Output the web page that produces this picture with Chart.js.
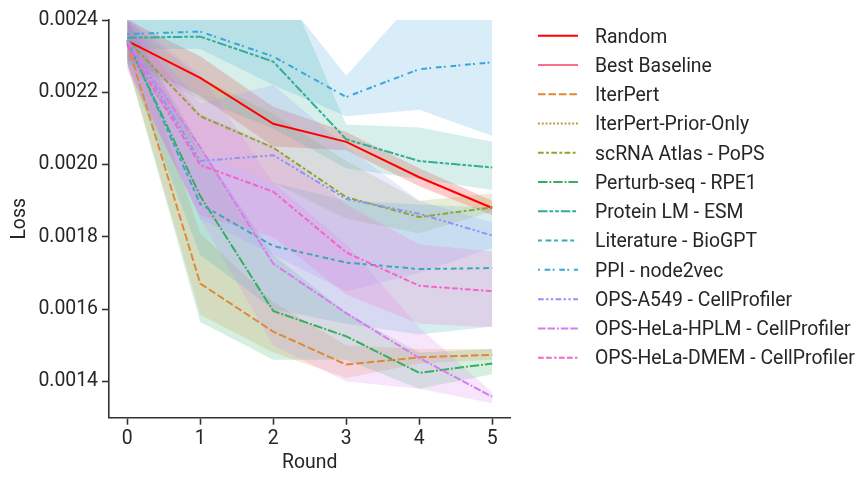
<!DOCTYPE html>
<html><head><meta charset="utf-8">
<script src="https://cdn.jsdelivr.net/npm/chart.js@4/dist/chart.umd.min.js"></script>
<style>html,body{margin:0;padding:0;background:#fff}#wrap{width:865px;height:477px;position:relative}</style>
</head><body><div id="wrap"><canvas id="c" width="865" height="477"></canvas></div>
<script>
// ---- data ----
const rounds = [0, 1, 2, 3, 4, 5];
const xTicks = [0, 1, 2, 3, 4, 5];
const yTicks = [0.0014, 0.0016, 0.0018, 0.0020, 0.0022, 0.0024];
const seriesNames = ["Random", "Best Baseline", "IterPert", "IterPert-Prior-Only", "scRNA Atlas - PoPS",
  "Perturb-seq - RPE1", "Protein LM - ESM", "Literature - BioGPT", "PPI - node2vec",
  "OPS-A549 - CellProfiler", "OPS-HeLa-HPLM - CellProfiler", "OPS-HeLa-DMEM - CellProfiler"];

const meanRandom = [0.002342, 0.00224, 0.002113, 0.002063, 0.001965, 0.00188];
const lowRandom  = [0.00229, 0.00219, 0.00205, 0.00204, 0.00194, 0.00186];
const highRandom = [0.00240, 0.00230, 0.00216, 0.00209, 0.00199, 0.00190];

const meanBest = [];
const lowBest = [];
const highBest = [];

const meanIterPert = [0.002335, 0.001671, 0.001538, 0.001447, 0.001467, 0.001474];
const lowIterPert  = [0.00228, 0.001585, 0.00148, 0.00141, 0.00145, 0.00146];
const highIterPert = [0.00240, 0.00181, 0.00162, 0.00150, 0.00149, 0.00149];

const meanPriorOnly = [];
const lowPriorOnly = [];
const highPriorOnly = [];

const meanScrna = [0.002345, 0.002134, 0.002047, 0.00191, 0.001855, 0.001882];
const lowScrna  = [0.00229, 0.00203, 0.00195, 0.00185, 0.00181, 0.00187];
const highScrna = [0.00240, 0.00224, 0.00214, 0.00201, 0.00190, 0.00192];

const meanRpe1 = [0.00234, 0.001913, 0.001595, 0.001525, 0.001424, 0.00145];
const lowRpe1  = [0.00228, 0.001565, 0.00146, 0.00146, 0.00138, 0.00142];
const highRpe1 = [0.00240, 0.00205, 0.00175, 0.00159, 0.00148, 0.00149];

const meanEsm = [0.002351, 0.002354, 0.002285, 0.00207, 0.00201, 0.001992];
const lowEsm  = [0.00228, 0.00218, 0.00210, 0.00199, 0.00196, 0.00193];
const highEsm = [0.00245, 0.00252, 0.00258, 0.002111, 0.002103, 0.002063];

const meanBiogpt = [0.002345, 0.001891, 0.001775, 0.001729, 0.001711, 0.001714];
const lowBiogpt  = [0.00228, 0.00175, 0.00160, 0.00156, 0.00153, 0.001552];
const highBiogpt = [0.00240, 0.00203, 0.00195, 0.00190, 0.00189, 0.00188];

const meanPpi = [0.002361, 0.002368, 0.002299, 0.002187, 0.002264, 0.002283];
const lowPpi  = [0.00232, 0.00232, 0.00222, 0.002134, 0.002152, 0.002079];
const highPpi = [0.00240, 0.00245, 0.00250, 0.002246, 0.00247, 0.00249];

const meanA549 = [0.002345, 0.00201, 0.002026, 0.001905, 0.001864, 0.001804];
const lowA549  = [0.00228, 0.00185, 0.00175, 0.00165, 0.00170, 0.00177];
const highA549 = [0.00241, 0.00217, 0.00222, 0.00205, 0.00190, 0.00184];

const meanHplm = [0.00234, 0.002048, 0.001726, 0.001589, 0.001465, 0.001358];
const lowHplm  = [0.00227, 0.00185, 0.00150, 0.00140, 0.00138, 0.00134];
const highHplm = [0.00241, 0.00225, 0.00195, 0.00178, 0.00155, 0.00137];

const meanDmem = [0.00233, 0.001999, 0.001925, 0.001757, 0.001665, 0.00165];
const lowDmem  = [0.00226, 0.00186, 0.00180, 0.00164, 0.00156, 0.00155];
const highDmem = [0.00240, 0.00214, 0.00205, 0.00189, 0.00178, 0.00176];

// ---- styles ----
const colors = ['#ff0000', '#f77189', '#e08838', '#bd9a32', '#8fa532', '#36ae5f', '#35ad96', '#37aab8', '#3aa5d8', '#8f94f5', '#d77bf2', '#f565c6'];
const dashUnits = [[], [], [4, 1.5], [1, 1], [3, 1.25, 1.5, 1.25], [5, 1, 1, 1], [5, 1, 2, 1, 2, 1], [2, 2, 3, 1.5],
  [1, 2.5, 3, 1.2], [3, 1.25, 1.25, 1.25, 1.25, 1.25], [4, 1, 4, 1, 1, 1], [3, 1.25, 3, 1.25, 1.25, 1.25]];
const LW = 2, UNIT = 1.9;
const FONT = 'Roboto, "DejaVu Sans", sans-serif';
const FS = 19.4;
const TXT = '#262626';
const AX = '#333333';

const means = [meanRandom, meanBest, meanIterPert, meanPriorOnly, meanScrna, meanRpe1, meanEsm, meanBiogpt, meanPpi, meanA549, meanHplm, meanDmem];
const lows = [lowRandom, lowBest, lowIterPert, lowPriorOnly, lowScrna, lowRpe1, lowEsm, lowBiogpt, lowPpi, lowA549, lowHplm, lowDmem];
const highs = [highRandom, highBest, highIterPert, highPriorOnly, highScrna, highRpe1, highEsm, highBiogpt, highPpi, highA549, highHplm, highDmem];

function rgba(hex, a) {
  const n = parseInt(hex.slice(1), 16);
  return `rgba(${(n >> 16) & 255},${(n >> 8) & 255},${n & 255},${a})`;
}
const pts = arr => arr.map((v, i) => ({ x: rounds[i], y: v }));

const datasets = [];
let k = 0;
seriesNames.forEach((name, i) => {
  if (!means[i].length) return;
  datasets.push({ label: name + ' hi', data: pts(highs[i]), borderWidth: 0, pointRadius: 0, fill: '+1', backgroundColor: rgba(colors[i], 0.2), order: -(k++) });
  datasets.push({ label: name + ' lo', data: pts(lows[i]), borderWidth: 0, pointRadius: 0, fill: false, order: -(k++) });
  datasets.push({ label: name, data: pts(means[i]), borderColor: colors[i], borderWidth: LW, borderDash: dashUnits[i].map(d => d * UNIT), pointRadius: 0, fill: false, tension: 0, order: -(k++) });
});

const legendPlugin = {
  id: 'customLegend',
  afterDraw(chart) {
    const ctx = chart.ctx;
    ctx.save();
    ctx.font = FS + 'px ' + FONT;
    ctx.fillStyle = TXT;
    ctx.textBaseline = 'alphabetic';
    ctx.textAlign = 'left';
    seriesNames.forEach((name, i) => {
      const y = 35.7 + i * 29.27;
      ctx.strokeStyle = colors[i];
      ctx.lineWidth = LW;
      ctx.setLineDash(dashUnits[i].map(d => d * UNIT));
      ctx.beginPath(); ctx.moveTo(538, y); ctx.lineTo(578, y); ctx.stroke();
      ctx.setLineDash([]);
      ctx.fillText(name, 595, y + 6.8);
    });
    ctx.restore();
  }
};

new Chart(document.getElementById('c'), {
  type: 'line',
  data: { datasets },
  options: {
    responsive: false, animation: false,
    layout: { padding: { left: 0, right: 354.5, top: 20, bottom: 0 } },
    plugins: { legend: { display: false }, tooltip: { enabled: false }, filler: { drawTime: 'beforeDatasetsDraw' } },
    scales: {
      x: {
        type: 'linear', min: -0.25, max: 5.25,
        afterBuildTicks: s => { s.ticks = xTicks.map(v => ({ value: v })); },
        afterFit: s => { s.height = 59.3; },
        grid: { display: true, drawOnChartArea: false, drawTicks: true, tickLength: 7, tickWidth: 1.6, tickColor: AX },
        border: { display: true, color: AX, width: 1.6 },
        ticks: { font: { family: FONT, size: FS }, color: TXT, padding: 3, maxRotation: 0, callback: v => String(v) },
        title: { display: true, text: 'Round', font: { family: FONT, size: FS }, color: TXT, padding: { top: 0, bottom: 2.4 } }
      },
      y: {
        type: 'linear', min: 0.0013, max: 0.0024,
        afterBuildTicks: s => { s.ticks = yTicks.map(v => ({ value: v })); },
        afterFit: s => { s.width = 109; },
        grid: { display: true, drawOnChartArea: false, drawTicks: true, tickLength: 7, tickWidth: 1.6, tickColor: AX },
        border: { display: true, color: AX, width: 1.6 },
        ticks: { font: { family: FONT, size: FS }, color: TXT, padding: 4, callback: v => Number(v).toFixed(4) },
        title: { display: true, text: 'Loss', font: { family: FONT, size: FS }, color: TXT, padding: { top: 8.9, bottom: 0 } }
      }
    }
  },
  plugins: [legendPlugin]
});
</script></body></html>
